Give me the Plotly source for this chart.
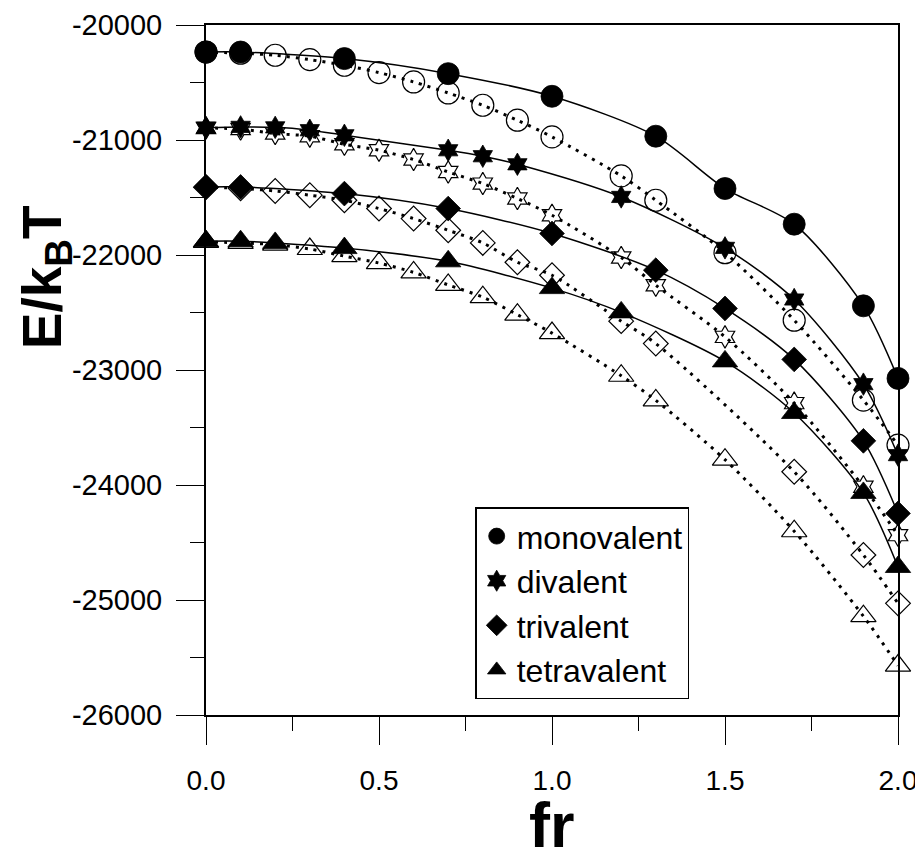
import plotly.graph_objects as go

# ---------------- data ----------------
mono_fill_x = [0, 0.1, 0.4, 0.7, 1.0, 1.3, 1.5, 1.7, 1.9, 2.0]
mono_fill_y = [-20235, -20235, -20292, -20423, -20620, -20967, -21422, -21732, -22442, -23073]
mono_open_x = [0, 0.1, 0.2, 0.3, 0.4, 0.5, 0.6, 0.7, 0.8, 0.9, 1.0, 1.2, 1.3, 1.5, 1.7, 1.9, 2.0]
mono_open_y = [-20235, -20245, -20263, -20301, -20350, -20414, -20495, -20591, -20698, -20828,
               -20973, -21312, -21524, -21980, -22567, -23262, -23653]

div_fill_x = [0, 0.1, 0.2, 0.3, 0.4, 0.7, 0.8, 0.9, 1.2, 1.5, 1.7, 1.9, 2.0]
div_fill_y = [-20892, -20886, -20890, -20915, -20959, -21089, -21141, -21211, -21495, -21938,
              -22387, -23123, -23740]
div_open_x = [0, 0.1, 0.2, 0.3, 0.4, 0.5, 0.6, 0.7, 0.8, 0.9, 1.0, 1.2, 1.3, 1.5, 1.7, 1.9, 2.0]
div_open_y = [-20895, -20905, -20944, -20967, -21037, -21089, -21170, -21278, -21379, -21509,
              -21654, -22022, -22263, -22712, -23288, -24015, -24436]

tri_fill_x = [0, 0.1, 0.4, 0.7, 1.0, 1.3, 1.5, 1.7, 1.9, 2.0]
tri_fill_y = [-21408, -21408, -21466, -21596, -21813, -22132, -22465, -22908, -23616, -24247]
tri_open_x = [0, 0.1, 0.2, 0.3, 0.4, 0.5, 0.6, 0.7, 0.8, 0.9, 1.0, 1.2, 1.3, 1.7, 1.9, 2.0]
tri_open_y = [-21410, -21420, -21443, -21480, -21524, -21596, -21683, -21785, -21895, -22063,
              -22176, -22575, -22770, -23885, -24609, -25029]

tet_fill_x = [0, 0.1, 0.2, 0.4, 0.7, 1.0, 1.2, 1.5, 1.7, 1.9, 2.0]
tet_fill_y = [-21880, -21880, -21895, -21940, -22055, -22288, -22499, -22925, -23374, -24069, -24713]
tet_open_x = [0, 0.1, 0.2, 0.3, 0.4, 0.5, 0.6, 0.7, 0.8, 0.9, 1.0, 1.2, 1.3, 1.5, 1.7, 1.9, 2.0]
tet_open_y = [-21885, -21895, -21910, -21948, -22010, -22070, -22151, -22260, -22367, -22519,
              -22679, -23050, -23264, -23780, -24402, -25141, -25570]

series_names = ["monovalent", "divalent", "trivalent", "tetravalent"]

ytick_vals = [-20000, -21000, -22000, -23000, -24000, -25000, -26000]
ytick_text = ["-20000", "-21000", "-22000", "-23000", "-24000", "-25000", "-26000"]
xtick_vals = [0.0, 0.5, 1.0, 1.5, 2.0]
xtick_text = ["0.0", "0.5", "1.0", "1.5", "2.0"]

# ---------------- figure ----------------
FONT = "Liberation Sans, Arial, Helvetica, sans-serif"
fig = go.Figure()

groups = [
    (mono_fill_x, mono_fill_y, mono_open_x, mono_open_y, "circle", 22),
    (div_fill_x, div_fill_y, div_open_x, div_open_y, "hexagram", 17),
    (tri_fill_x, tri_fill_y, tri_open_x, tri_open_y, "diamond", 19),
    (tet_fill_x, tet_fill_y, tet_open_x, tet_open_y, "triangle-up", 22),
]

# open markers + dotted curves first
for fx, fy, ox, oy, sym, sz in groups:
    fig.add_trace(go.Scatter(
        x=ox, y=oy, mode="lines+markers", showlegend=False, cliponaxis=False,
        line=dict(color="black", width=3, dash="3px,6px", shape="spline", smoothing=0.8),
        marker=dict(symbol=sym + "-open", size=sz, color="black", line=dict(width=1.2, color="black")),
        hoverinfo="skip"))

# solid curves through filled markers
for fx, fy, ox, oy, sym, sz in groups:
    fig.add_trace(go.Scatter(
        x=fx, y=fy, mode="lines", showlegend=False, cliponaxis=False,
        line=dict(color="black", width=1.5, shape="spline", smoothing=0.8),
        hoverinfo="skip"))

for (fx, fy, ox, oy, sym, sz), name in zip(groups, series_names):
    fig.add_trace(go.Scatter(
        x=fx, y=fy, mode="markers", name=name, cliponaxis=False,
        marker=dict(symbol=sym, size=sz, color="black", line=dict(width=0.8, color="black"))))

# the page body has an 8px margin: compensate so the plot lands where the reference has it
fig.update_layout(
    width=915, height=851,
    margin=dict(l=198, r=25, t=17, b=144),
    paper_bgcolor="white", plot_bgcolor="white",
    font=dict(family=FONT, color="black"),
    showlegend=True,
    legend=dict(x=0.389, y=0.301, xanchor="left", yanchor="top",
                bordercolor="black", borderwidth=1.5, bgcolor="white",
                font=dict(size=32, family=FONT, color="black"),
                itemsizing="trace", tracegroupgap=0),
)

fig.update_xaxes(
    range=[0, 2], showgrid=False, zeroline=False, automargin=False,
    showline=True, linecolor="black", linewidth=2, mirror=True,
    ticks="outside", ticklen=28, tickwidth=1.2, tickcolor="black",
    tickmode="array", tickvals=xtick_vals, ticktext=xtick_text,
    tickfont=dict(size=28, family=FONT, color="black"),
    ticklabelstandoff=11,
    minor=dict(tickmode="linear", tick0=0, dtick=0.25, ticks="outside", ticklen=14,
               tickwidth=1.2, tickcolor="black", showgrid=False),
)
fig.update_yaxes(
    range=[-26000, -20000], showgrid=False, zeroline=False, automargin=False,
    showline=True, linecolor="black", linewidth=2, mirror=True,
    ticks="outside", ticklen=28, tickwidth=1.2, tickcolor="black",
    tickmode="array", tickvals=ytick_vals, ticktext=ytick_text,
    tickfont=dict(size=29, family=FONT, color="black"),
    ticklabelstandoff=8,
    minor=dict(tickmode="linear", tick0=-20000, dtick=500, ticks="outside", ticklen=14,
               tickwidth=1.2, tickcolor="black", showgrid=False),
)

fig.add_annotation(text="<b>fr</b>", xref="paper", yref="paper", x=0.5, y=-0.16,
                   xanchor="center", yanchor="middle", showarrow=False, borderpad=0,
                   font=dict(size=63, family=FONT, color="black"))
fig.add_annotation(text="<b>E/k<sub>B</sub>T</b>", xref="paper", yref="paper", x=-0.232, y=0.635,
                   xanchor="center", yanchor="middle", showarrow=False, textangle=-90,
                   borderpad=0,
                   font=dict(size=55, family=FONT, color="black"))

fig.write_html("out.html")
